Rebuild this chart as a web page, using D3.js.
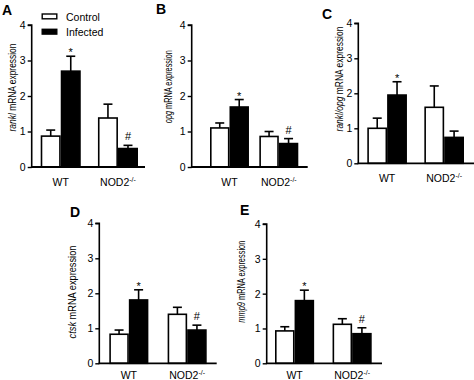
<!DOCTYPE html>
<html><head><meta charset="utf-8">
<script src="https://cdn.jsdelivr.net/npm/d3@7"></script>
<style>
html,body{margin:0;padding:0;background:#fff;}
svg{display:block;font-family:"Liberation Sans",Arial,sans-serif;}
</style></head>
<body>
<svg id="chart" width="474" height="380"></svg>
<script>
// ---- data ----
const categories = ["WT", "NOD2"];
const series = ["Control", "Infected"];
const panelLetters = ["A", "B", "C", "D", "E"];
const geneNames = ["rankl", "opg", "rankl/opg", "ctsk", "mmp9"];
const yTicks = [0, 1, 2, 3, 4];
// per panel: [WT, NOD2]
const controlMean = [[0.87, 1.38], [1.10, 0.86], [1.00, 1.60], [0.83, 1.40], [0.93, 1.12]];
const controlSem  = [[0.17, 0.39], [0.14, 0.14], [0.29, 0.61], [0.12, 0.20], [0.12, 0.16]];
const infectedMean = [[2.70, 0.52], [1.69, 0.66], [1.95, 0.74], [1.81, 0.95], [1.80, 0.85]];
const infectedSem  = [[0.42, 0.09], [0.21, 0.14], [0.38, 0.18], [0.29, 0.14], [0.30, 0.17]];
const infectedMarks = [["*", "#"], ["*", "#"], ["*", ""], ["*", "#"], ["*", "#"]];

// ---- layout (positions only) ----
const layout = [
  {ax: 31.7, axEnd: 145, y0: 167, y4: 25, b0: 40.7, b1: 138, pad: 0.30, lx: 2, ly: 15, tx: 12.5, ty: 87.5, tlen: 88, cy: 19},
  {ax: 191.7, axEnd: 307.7, y0: 167, y4: 25, b0: 210, b1: 298.3, pad: 0.21, lx: 156, ly: 14, tx: 168, ty: 86.7, tlen: 73, cy: 19},
  {ax: 358.3, axEnd: 474, y0: 163.3, y4: 23.3, b0: 367.3, b1: 464, pad: 0.305, lx: 322, ly: 19, tx: 339, ty: 79, tlen: 105, cy: 19},
  {ax: 99.3, axEnd: 216.7, y0: 363.3, y4: 223.3, b0: 109.3, b1: 206.7, pad: 0.33, lx: 70, ly: 216.5, tx: 72.5, ty: 292, tlen: 93, cy: 15.5},
  {ax: 266.7, axEnd: 382, y0: 363.3, y4: 224, b0: 275, b1: 371.7, pad: 0.32, lx: 240, ly: 215, tx: 241.5, ty: 281.7, tlen: 82, cy: 15.5}
];

const svg = d3.select("#chart");
const fills = {Control: "#fff", Infected: "#000"};

layout.forEach((L, i) => {
  const g = svg.append("g");
  const y = d3.scaleLinear().domain([0, 4]).range([L.y0, L.y4]);
  const x0 = d3.scaleBand().domain(categories).range([L.b0, L.b1]).paddingInner(L.pad);
  const x1 = d3.scaleBand().domain(series).range([0, x0.bandwidth()]);

  // panel letter
  g.append("text").attr("x", L.lx).attr("y", L.ly).text(panelLetters[i])
    .attr("font-size", 14).attr("font-weight", "bold").attr("fill", "#000");

  // bars
  const rows = [];
  categories.forEach((c, ci) => {
    rows.push({c, s: "Control", m: controlMean[i][ci], e: controlSem[i][ci], mark: ""});
    rows.push({c, s: "Infected", m: infectedMean[i][ci], e: infectedSem[i][ci], mark: infectedMarks[i][ci]});
  });
  rows.forEach(r => {
    const bx = x0(r.c) + x1(r.s);
    const bw = x1.bandwidth();
    const cx = bx + bw / 2;
    // error bar (up only)
    g.append("line").attr("x1", cx).attr("x2", cx).attr("y1", y(r.m)).attr("y2", y(r.m + r.e))
      .attr("stroke", "#000").attr("stroke-width", 1.6);
    g.append("line").attr("x1", cx - 4.5).attr("x2", cx + 4.5).attr("y1", y(r.m + r.e)).attr("y2", y(r.m + r.e))
      .attr("stroke", "#000").attr("stroke-width", 1.6);
    g.append("rect").attr("x", bx + 0.8).attr("y", y(r.m)).attr("width", bw - 1.6).attr("height", y(0) - y(r.m))
      .attr("fill", fills[r.s]).attr("stroke", "#000").attr("stroke-width", 1.6);
    if (r.mark) {
      g.append("text").attr("x", cx).attr("y", y(r.m + r.e) - (r.mark === "*" ? 0 : 5))
        .attr("text-anchor", "middle").attr("font-size", 11).text(r.mark);
    }
  });

  // y axis
  const ax = g.append("g").attr("transform", `translate(${L.ax},0)`)
    .call(d3.axisLeft(y).tickValues(yTicks).tickFormat(d3.format("d")).tickSize(4).tickPadding(2));
  ax.select(".domain").attr("stroke-width", 1.6).attr("d", `M-4,${L.y4}H0V${L.y0}`);
  ax.selectAll(".tick line").attr("stroke-width", 1.4);
  ax.selectAll(".tick text").attr("font-size", 10.5).attr("font-family", "Liberation Sans, Arial, sans-serif");

  // x axis line
  g.append("line").attr("x1", L.ax - 0.8).attr("x2", L.axEnd).attr("y1", L.y0).attr("y2", L.y0)
    .attr("stroke", "#000").attr("stroke-width", 1.8);

  // category labels
  categories.forEach(c => {
    const t = g.append("text").attr("x", x0(c) + x0.bandwidth() / 2).attr("y", L.y0 + L.cy)
      .attr("text-anchor", "middle").attr("font-size", 10.5);
    if (c === "NOD2") {
      t.append("tspan").text("NOD2");
      t.append("tspan").attr("font-size", 7).attr("dy", -4).text("-/-");
    } else t.text(c);
  });

  // y title
  const tt = g.append("text").attr("font-size", 10).attr("text-anchor", "middle");
  tt.append("tspan").attr("font-style", "italic").text(geneNames[i]);
  tt.append("tspan").text(" mRNA expression");
  const w = tt.node().getComputedTextLength();
  tt.attr("transform", `translate(${L.tx + 3.5},${L.ty}) rotate(-90) scale(${L.tlen / w},1)`);

  // legend (panel A only)
  if (i === 0) {
    series.forEach((s, si) => {
      const ly = 14 + si * 15.3;
      g.append("rect").attr("x", 42.2).attr("y", ly).attr("width", 14.6).attr("height", 4.8)
        .attr("fill", fills[s]).attr("stroke", "#000").attr("stroke-width", 1.4);
      g.append("text").attr("x", 66).attr("y", ly + 6.5).attr("font-size", 10.5).text(s);
    });
  }
});
</script>
</body></html>
